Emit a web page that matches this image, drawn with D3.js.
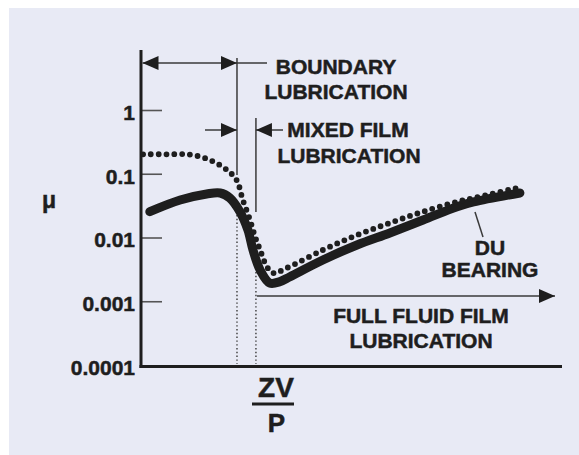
<!DOCTYPE html>
<html>
<head>
    <script src="https://d3js.org/d3.v7.min.js"></script>
    <style>
        body { margin: 0; background: #fff; }
        svg { display: block; }
        text { font-family: "Liberation Sans", Arial, sans-serif; font-weight: bold; fill: #1e1e1e; stroke: #1e1e1e; stroke-width: 0.5px; }
    </style>
</head>
<body>
    <div id="chart"></div>
    <script>
        // DU bearing friction curve (solid) -- x is ZV/P in arbitrary units
        const duX  = [2.1, 9.3, 15.6, 18.8, 21.1, 23.5, 25.4, 26.6, 28.3, 30.6, 33.0, 35.4, 43.2, 51.3, 59.1, 67.0, 75.1, 79.0, 90.0];
        const duMu = [0.0254, 0.0387, 0.0481, 0.0499, 0.0417, 0.0254, 0.0131, 0.00637, 0.00309, 0.00193, 0.00203, 0.00243, 0.00444, 0.00763, 0.0118, 0.0188, 0.0304, 0.0361, 0.0499];

        // conventional bearing (dotted Stribeck curve)
        const dotX  = [0.5, 6.0, 11.6, 16.4, 20.4, 22.7, 24.2, 25.9, 27.1, 28.3, 29.9, 31.4, 34.6, 43.2, 51.3, 59.1, 67.0, 75.1, 79.0, 89.3];
        const dotMu = [0.202, 0.202, 0.200, 0.164, 0.115, 0.0798, 0.0387, 0.0188, 0.0103, 0.00637, 0.00348, 0.00277, 0.00332, 0.00637, 0.0109, 0.0169, 0.0254, 0.0364, 0.0417, 0.0598];

        const yTicks = [1, 0.1, 0.01, 0.001, 0.0001];
        const yTickLabels = ["1", "0.1", "0.01", "0.001", "0.0001"];

        // regime boundaries in ZV/P units
        const boundaryX = [22.8, 27.3];

        const W = 579, H = 455;
        const svg = d3.select("#chart").append("svg")
            .attr("width", W).attr("height", H);

        svg.append("rect").attr("x", 9).attr("y", 8)
            .attr("width", W - 9).attr("height", H - 8)
            .attr("fill", "#e8eaf5");

        const x = d3.scaleLinear().domain([0, 100]).range([141, 562]);
        const y = d3.scaleLog().domain([0.0001, 1]).range([365, 110]);

        const ink = "#1e1e1e";
        const thin = "#3a3a3a";

        // arrowhead marker
        const defs = svg.append("defs");
        defs.append("marker")
            .attr("id", "head")
            .attr("viewBox", "0 0 16 14")
            .attr("refX", 16).attr("refY", 7)
            .attr("markerWidth", 16).attr("markerHeight", 14)
            .attr("markerUnits", "userSpaceOnUse")
            .attr("orient", "auto-start-reverse")
            .append("path").attr("d", "M0,0L16,7L0,14Z").attr("fill", ink);

        // y axis (ticks point inward)
        const yAxis = d3.axisLeft(y)
            .tickValues(yTicks)
            .tickFormat((d, i) => yTickLabels[i])
            .tickSizeInner(-21)
            .tickSizeOuter(0)
            .tickPadding(6);

        const gy = svg.append("g")
            .attr("transform", `translate(${x(0)},0)`)
            .call(yAxis);
        gy.select(".domain").remove();
        gy.selectAll(".tick line").attr("stroke", "#555").attr("stroke-width", 1.6);
        gy.selectAll(".tick").filter(d => d === 0.0001).select("line").remove();
        gy.selectAll(".tick text")
            .attr("dy", "0.45em")
            .attr("font-size", 21)
            .attr("font-family", "Liberation Sans, Arial, sans-serif")
            .attr("font-weight", "bold")
            .attr("fill", ink);

        // axis lines
        svg.append("line")
            .attr("x1", x(0)).attr("x2", x(0))
            .attr("y1", 50).attr("y2", 368)
            .attr("stroke", ink).attr("stroke-width", 3);
        svg.append("line")
            .attr("x1", x(0) - 1.5).attr("x2", x(100))
            .attr("y1", 366.5).attr("y2", 366.5)
            .attr("stroke", ink).attr("stroke-width", 3);

        // regime boundary lines
        const bx1 = x(boundaryX[0]), bx2 = x(boundaryX[1]);
        const vlines = [
            { x: bx1, y1: 58, y2: 175, dash: null },
            { x: bx1, y1: 215, y2: 364, dash: "1.4 2.4" },
            { x: bx2, y1: 118, y2: 212, dash: null },
            { x: bx2, y1: 272, y2: 364, dash: "1.4 2.4" }
        ];
        svg.selectAll(".vline").data(vlines).join("line")
            .attr("x1", d => d.x).attr("x2", d => d.x)
            .attr("y1", d => d.y1).attr("y2", d => d.y2)
            .attr("stroke", thin)
            .attr("stroke-width", d => d.dash ? 1.4 : 1.5)
            .attr("stroke-dasharray", d => d.dash);

        // boundary lubrication arrow
        svg.append("line")
            .attr("x1", x(0) + 1.5).attr("x2", bx1)
            .attr("y1", 63).attr("y2", 63)
            .attr("stroke", thin).attr("stroke-width", 1.5)
            .attr("marker-start", "url(#head)")
            .attr("marker-end", "url(#head)");
        svg.append("line")
            .attr("x1", bx1).attr("x2", 267)
            .attr("y1", 63).attr("y2", 63)
            .attr("stroke", thin).attr("stroke-width", 1.5);

        // mixed film arrows
        svg.append("line")
            .attr("x1", 205).attr("x2", bx1)
            .attr("y1", 130).attr("y2", 130)
            .attr("stroke", thin).attr("stroke-width", 1.5)
            .attr("marker-end", "url(#head)");
        svg.append("line")
            .attr("x1", 283).attr("x2", bx2)
            .attr("y1", 130).attr("y2", 130)
            .attr("stroke", thin).attr("stroke-width", 1.5)
            .attr("marker-end", "url(#head)");

        // full fluid film arrow
        svg.append("line")
            .attr("x1", bx2 + 1).attr("x2", 555)
            .attr("y1", 296).attr("y2", 296)
            .attr("stroke", thin).attr("stroke-width", 1.5)
            .attr("marker-end", "url(#head)");

        // DU bearing pointer
        svg.append("line")
            .attr("x1", 475).attr("y1", 212)
            .attr("x2", 483).attr("y2", 237)
            .attr("stroke", thin).attr("stroke-width", 1.5);

        // curves
        const line = d3.line()
            .x(d => x(d[0]))
            .y(d => y(d[1]))
            .curve(d3.curveCatmullRom.alpha(0.5));

        svg.append("path")
            .datum(duX.map((v, i) => [v, duMu[i]]))
            .attr("d", line)
            .attr("fill", "none")
            .attr("stroke", ink)
            .attr("stroke-width", 9)
            .attr("stroke-linecap", "round")
            .attr("stroke-linejoin", "round");

        svg.append("path")
            .datum(dotX.map((v, i) => [v, dotMu[i]]))
            .attr("d", line)
            .attr("fill", "none")
            .attr("stroke", ink)
            .attr("stroke-width", 5.8)
            .attr("stroke-linecap", "round")
            .attr("stroke-dasharray", "0 7.8");

        // labels
        const labels = [
            { t: "BOUNDARY", x: 336, y: 74, s: 21 },
            { t: "LUBRICATION", x: 336, y: 99, s: 21 },
            { t: "MIXED FILM", x: 348, y: 137, s: 21 },
            { t: "LUBRICATION", x: 349, y: 163, s: 21 },
            { t: "DU", x: 490, y: 255, s: 21 },
            { t: "BEARING", x: 490, y: 277, s: 21 },
            { t: "FULL FLUID FILM", x: 421, y: 323, s: 21 },
            { t: "LUBRICATION", x: 421, y: 348, s: 21 },
            { t: "μ", x: 49, y: 208, s: 23 },
            { t: "ZV", x: 276, y: 397, s: 28 },
            { t: "P", x: 276.5, y: 432, s: 26 }
        ];
        svg.selectAll(".lbl").data(labels).join("text")
            .attr("x", d => d.x).attr("y", d => d.y)
            .attr("text-anchor", "middle")
            .attr("font-size", d => d.s)
            .text(d => d.t);

        // fraction bar
        svg.append("line")
            .attr("x1", 252).attr("x2", 294)
            .attr("y1", 404).attr("y2", 404)
            .attr("stroke", ink).attr("stroke-width", 3);
    </script>
</body>
</html>
